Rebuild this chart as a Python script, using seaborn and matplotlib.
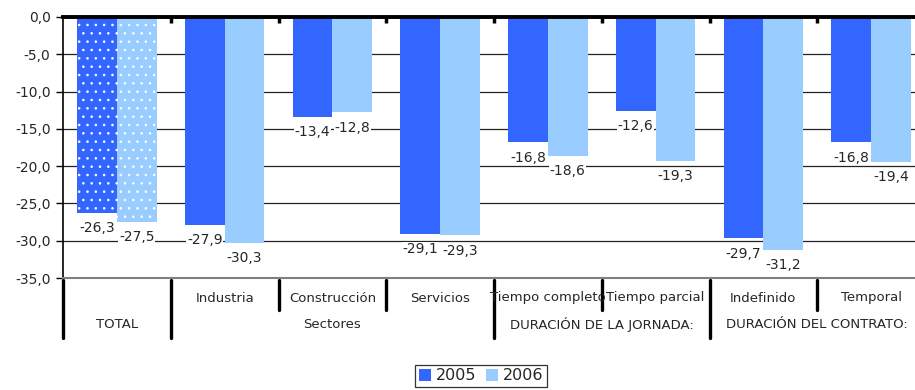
import matplotlib
matplotlib.use("Agg")
import matplotlib.pyplot as plt
import seaborn as sns
import pandas as pd
from matplotlib.patches import Patch

# Data
categories = ["TOTAL", "Industria", "Construcción", "Servicios",
              "Tiempo completo", "Tiempo parcial", "Indefinido", "Temporal"]
values_2005 = [-26.3, -27.9, -13.4, -29.1, -16.8, -12.6, -29.7, -16.8]
values_2006 = [-27.5, -30.3, -12.8, -29.3, -18.6, -19.3, -31.2, -19.4]
years = ["2005", "2006"]
colors = {"2005": "#3366FF", "2006": "#99CCFF"}

# Group headings under the category labels: (text, first index, last index)
groups = [("Sectores", 1, 3),
          ("DURACIÓN DE LA JORNADA:", 4, 5),
          ("DURACIÓN DEL CONTRATO:", 6, 7)]

df = pd.DataFrame({
    "categoria": categories * 2,
    "valor": values_2005 + values_2006,
    "año": [years[0]] * len(categories) + [years[1]] * len(categories),
})

sns.set_style("white")
plt.rcParams["font.family"] = ["DejaVu Sans"]
plt.rcParams["hatch.linewidth"] = 0.6

fig = plt.figure(figsize=(9.15, 3.9), dpi=100)
ax = fig.add_axes([63 / 915, 1 - 278 / 390, 1 - 63 / 915, (278 - 17) / 390])

sns.barplot(data=df, x="categoria", y="valor", hue="año", order=categories,
            hue_order=years, palette=colors, width=0.74, saturation=1,
            edgecolor="none", linewidth=0, ax=ax)

# Dotted fill for the TOTAL bars
for cont in ax.containers:
    p = cont.patches[0]
    p.set_hatch("..")
    p.set_edgecolor("white")
    p.set_linewidth(0)

# Value labels below each bar end
for cont, vals in zip(ax.containers, [values_2005, values_2006]):
    labels = [f"{v:.1f}".replace(".", ",") for v in vals]
    ax.bar_label(cont, labels=labels, padding=6, fontsize=10,
                 bbox=dict(facecolor="white", edgecolor="none", pad=0.5))

n = len(categories)
ax.set_xlim(-0.5, n - 0.5 - 10 / 107.7)
ax.set_ylim(-35, 0)
ax.set_yticks([0, -5, -10, -15, -20, -25, -30, -35])
ax.set_yticklabels([f"{t:.1f}".replace(".", ",") for t in ax.get_yticks()],
                   fontsize=10)
ax.yaxis.grid(True, color="#222222", linewidth=0.9)
ax.set_axisbelow(True)
ax.set_xlabel("")
ax.set_ylabel("")

# Category axis sits on the zero line at the top
ax.set_xticks([i - 0.5 for i in range(1, n)])
ax.set_xticklabels([])
ax.tick_params(axis="x", which="major", bottom=False, top=True,
               direction="in", length=4, width=2.5, color="black")
ax.tick_params(axis="y", which="major", left=True, direction="out",
               length=5, width=1, color="black", pad=4)

ax.spines["top"].set_visible(True)
ax.spines["top"].set_linewidth(2.8)
ax.spines["top"].set_color("black")
ax.spines["left"].set_linewidth(1.2)
ax.spines["left"].set_color("black")
ax.spines["bottom"].set_linewidth(1.5)
ax.spines["bottom"].set_color("#808080")
ax.spines["right"].set_visible(False)

# Multi-level category labels below the plot
trans = ax.get_xaxis_transform()
ax_h = (278 - 17)
def yax(py):
    return (278 - py) / ax_h

for i, c in enumerate(categories):
    if i == 0:
        ax.text(i, yax(325), c, transform=trans, ha="center", va="center",
                fontsize=9.5, clip_on=False)
    else:
        ax.text(i, yax(298), c, transform=trans, ha="center", va="center",
                fontsize=9.5, clip_on=False)
for label, a, b in groups:
    ax.text((a + b) / 2, yax(325), label, transform=trans, ha="center",
            va="center", fontsize=9.5, clip_on=False)

long_seps = [-0.5, 0.5, 3.5, 5.5]
short_seps = [1.5, 2.5, 4.5, 6.5]
for x in long_seps:
    ax.plot([x, x], [yax(280), yax(338)], transform=trans, color="black",
            lw=2.4, clip_on=False, solid_capstyle="round")
for x in short_seps:
    ax.plot([x, x], [yax(280), yax(310)], transform=trans, color="black",
            lw=2.4, clip_on=False, solid_capstyle="round")

# Legend at the bottom centre
ax.legend_.remove()
handles = [Patch(facecolor=colors[y], edgecolor="none", label=y) for y in years]
leg = fig.legend(handles=handles, loc="center", bbox_to_anchor=(481 / 915, 1 - 376 / 390),
                 ncol=2, frameon=True, fancybox=False, fontsize=11.5,
                 handlelength=0.75, handleheight=0.75, handletextpad=0.3,
                 columnspacing=0.6, borderpad=0.25, borderaxespad=0)
leg.get_frame().set_edgecolor("black")
leg.get_frame().set_linewidth(0.9)

fig.savefig("out.png", dpi=100)
